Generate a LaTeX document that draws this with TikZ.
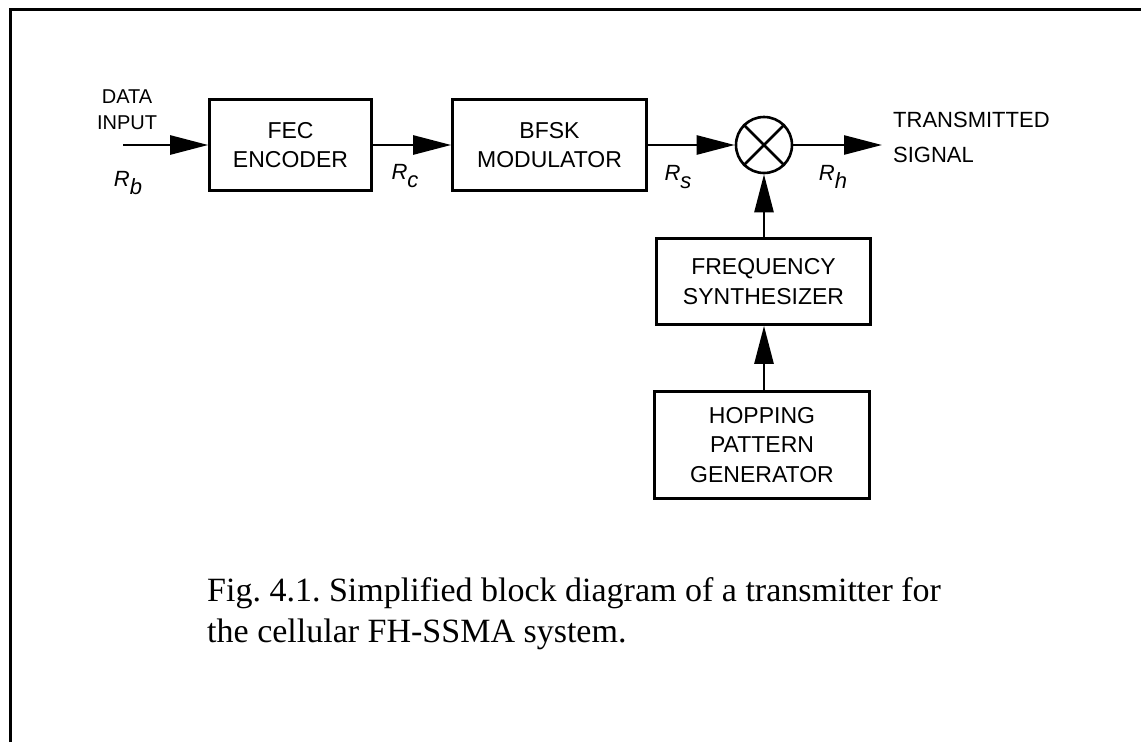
\documentclass[tikz,border=0pt]{standalone}
\usepackage{fontspec}
\setmainfont{Liberation Serif}
\setsansfont{Liberation Sans}
\usetikzlibrary{arrows.meta}
\newcommand{\ratesub}[1]{R\raisebox{-8pt}{#1}}
\begin{document}
\frenchspacing
\begin{tikzpicture}[x=1pt,y=-1pt,
  blk/.style={draw,line width=2.6pt,inner sep=0pt,font=\sffamily\fontsize{23}{29.5}\selectfont,align=center},
  arr/.style={line width=2.6pt,-{Triangle[length=38pt,width=19pt]}},
  lbl/.style={font=\sffamily\fontsize{20}{26}\selectfont,align=center,inner sep=0pt},
  rate/.style={font=\sffamily\itshape\fontsize{22}{24}\selectfont,inner sep=0pt}]
\useasboundingbox (0,0) rectangle (1141,742);
\draw[line width=3pt] (10,742) -- (10,9) -- (1141,9);

\node[blk,minimum width=162pt,minimum height=91pt] (fec) at (290.5,145) {FEC\\ENCODER};
\node[blk,minimum width=194pt,minimum height=91pt] (bfsk) at (549.5,145) {BFSK\\MODULATOR};
\node[draw,circle,line width=2.6pt,minimum size=56pt,inner sep=0pt] (mix) at (764,145) {};
\draw[line width=2.6pt] (mix.45) -- (mix.225) (mix.135) -- (mix.-45);
\node[blk,minimum width=214pt,minimum height=86pt] (syn) at (763.5,281.5) {FREQUENCY\\SYNTHESIZER};
\node[blk,minimum width=215pt,minimum height=107pt] (hop) at (762,445) {HOPPING\\PATTERN\\GENERATOR};

\coordinate (in) at (123,145);
\coordinate (out) at (882,145);
\draw[arr] (in) -- (fec.west);
\draw[arr] (fec.east) -- (bfsk.west);
\draw[arr] (bfsk.east) -- (mix.west);
\draw[arr] (mix.east) -- (out);
\draw[arr] (syn.north -| mix.south) -- (mix.south);
\draw[arr] (hop.north -| mix.south) -- (syn.south -| mix.south);

\node[lbl] (din) at (127,110) {DATA\\INPUT};
\node[lbl,font=\sffamily\fontsize{22}{35}\selectfont,align=left,anchor=west] (tx) at (893,137.5) {TRANSMITTED\\SIGNAL};
\node[rate] (rb) at (128,183) {\ratesub{b}};
\node[rate] (rc) at (405,176) {\ratesub{c}};
\node[rate] (rs) at (678,177) {\ratesub{s}};
\node[rate] (rh) at (833,177) {\ratesub{h}};

\node[font=\fontsize{34}{41}\selectfont,align=left,anchor=base west,inner sep=0pt] (cap) at (207,642)
  {Fig. 4.1. Simplified block diagram of a transmitter for\\the cellular FH-SSMA system.};
\end{tikzpicture}
\end{document}
